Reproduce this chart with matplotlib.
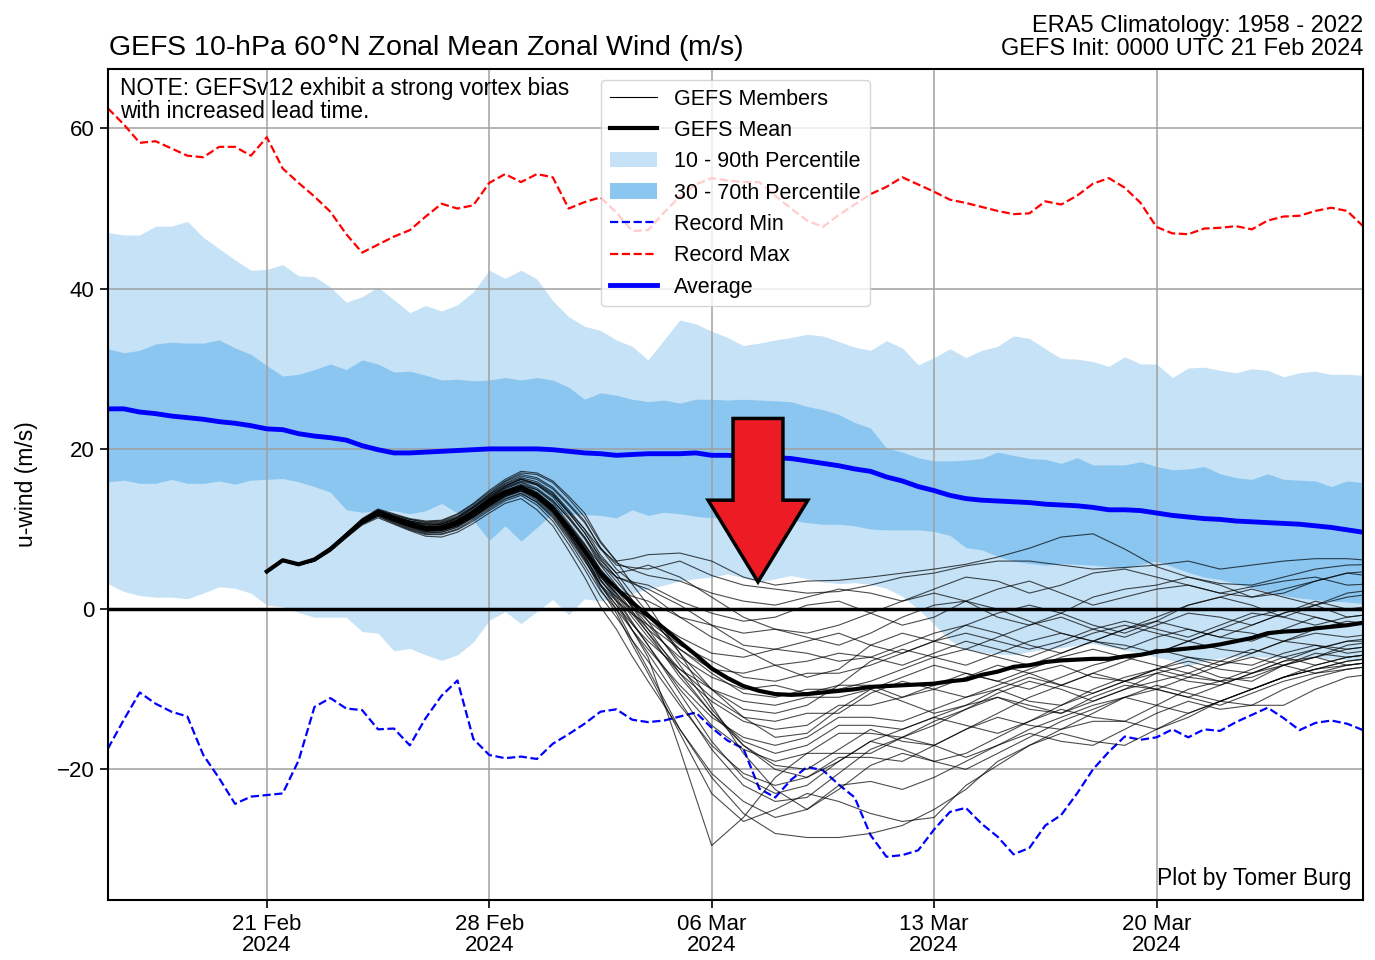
import matplotlib
matplotlib.use('Agg')
import matplotlib.pyplot as plt
import matplotlib.dates as mdates
from matplotlib.patches import FancyArrow, Patch
from matplotlib.lines import Line2D
import pandas as pd

plt.rcParams['font.family'] = ['Liberation Sans', 'DejaVu Sans']

# climatology, 12-hourly from 16 Feb 00z
clim_start = '2024-02-16 00:00'
record_max = [62.5, 60.5, 58.2, 58.4, 57.5, 56.6, 56.4, 57.7, 57.7, 56.6,
              58.9, 55.0, 53.2, 51.5, 49.6, 46.8, 44.5, 45.5, 46.5, 47.3,
              49.0, 50.6, 50.0, 50.4, 53.2, 54.3, 53.3, 54.3, 53.9, 50.0,
              50.8, 51.4, 49.5, 47.2, 47.3, 49.5, 51.5, 53.0, 53.8, 53.5,
              53.3, 53.3, 51.6, 50.0, 48.5, 47.7, 49.2, 50.5, 51.8, 52.7,
              53.9, 53.0, 52.1, 51.1, 50.7, 50.2, 49.7, 49.3, 49.4, 50.9,
              50.5, 51.6, 53.1, 53.8, 52.6, 50.7, 47.7, 46.9, 46.8, 47.5,
              47.6, 47.8, 47.4, 48.5, 49.0, 49.1, 49.7, 50.1, 49.7, 47.8]
record_min = [-17.4, -13.8, -10.4, -11.8, -12.8, -13.4, -18.2, -21.1, -24.3, -23.4,
              -23.2, -23.0, -18.9, -12.2, -11.1, -12.4, -12.6, -15.0, -14.9, -17.0,
              -13.6, -10.8, -8.9, -16.2, -18.2, -18.6, -18.4, -18.7, -16.8, -15.6,
              -14.3, -12.8, -12.5, -13.8, -14.1, -13.9, -13.4, -12.9, -14.8, -16.4,
              -17.4, -22.4, -23.5, -21.3, -19.7, -20.1, -21.9, -23.5, -28.2, -30.9,
              -30.7, -30.1, -27.5, -25.3, -24.8, -26.8, -28.4, -30.6, -29.8, -27.0,
              -25.7, -23.0, -20.0, -17.8, -15.9, -16.3, -16.0, -15.0, -16.0, -15.0,
              -15.2, -14.1, -13.2, -12.3, -13.6, -15.1, -14.2, -13.9, -14.3, -15.1]
clim_avg = [25.0, 25.0, 24.6, 24.4, 24.1, 23.9, 23.7, 23.4, 23.2, 22.9,
            22.5, 22.4, 21.9, 21.6, 21.4, 21.1, 20.4, 19.9, 19.5, 19.5,
            19.6, 19.7, 19.8, 19.9, 20.0, 20.0, 20.0, 20.0, 19.9, 19.7,
            19.5, 19.4, 19.2, 19.3, 19.4, 19.4, 19.4, 19.5, 19.2, 19.2,
            19.1, 19.0, 18.9, 18.8, 18.5, 18.2, 17.9, 17.5, 17.2, 16.5,
            16.0, 15.3, 14.8, 14.2, 13.8, 13.6, 13.5, 13.4, 13.3, 13.1,
            13.0, 12.9, 12.7, 12.4, 12.4, 12.3, 12.0, 11.7, 11.5, 11.3,
            11.2, 11.0, 10.9, 10.8, 10.7, 10.6, 10.4, 10.2, 9.9, 9.6]
p90 = [47.0, 46.7, 46.7, 47.8, 47.8, 48.4, 46.4, 45.0, 43.6, 42.3,
       42.4, 43.0, 41.6, 41.5, 40.2, 38.3, 39.0, 40.2, 38.6, 37.0,
       37.9, 37.2, 38.0, 39.6, 42.3, 41.3, 42.3, 41.2, 38.5, 36.5,
       35.3, 34.8, 33.6, 32.8, 31.1, 33.6, 36.1, 35.6, 34.7, 33.9,
       32.9, 33.2, 33.6, 33.9, 34.3, 34.1, 33.4, 32.7, 32.3, 33.5,
       32.6, 30.5, 31.4, 32.5, 31.4, 32.3, 32.8, 34.1, 33.8, 32.5,
       31.3, 31.2, 30.9, 30.3, 31.5, 30.6, 30.6, 28.9, 30.1, 30.2,
       29.8, 29.5, 30.0, 29.8, 29.0, 29.5, 29.7, 29.3, 29.3, 29.2]
p70 = [32.5, 32.0, 32.3, 33.1, 33.3, 33.2, 33.2, 33.6, 32.6, 31.8,
       30.4, 29.1, 29.3, 29.9, 30.6, 29.9, 31.1, 30.6, 29.6, 29.7,
       29.2, 28.6, 28.7, 28.5, 28.6, 28.9, 28.6, 28.9, 28.6, 27.7,
       26.2, 27.0, 26.7, 26.2, 25.9, 26.1, 25.7, 26.2, 26.2, 26.1,
       26.2, 26.1, 26.0, 25.9, 25.3, 24.9, 24.3, 23.3, 22.6, 20.1,
       19.6, 18.9, 18.5, 18.5, 18.6, 18.8, 19.6, 19.2, 18.8, 18.7,
       18.2, 18.9, 18.0, 18.0, 18.0, 18.4, 17.8, 17.4, 17.5, 17.8,
       16.9, 16.4, 16.2, 16.9, 16.2, 16.1, 16.0, 15.3, 16.0, 15.8]
p30 = [15.9, 16.1, 15.7, 15.7, 16.2, 15.7, 15.7, 16.0, 15.6, 16.1,
       16.2, 16.3, 15.9, 15.3, 14.6, 12.4, 12.1, 12.3, 12.3, 11.9,
       12.3, 13.2, 12.0, 11.1, 8.6, 10.4, 8.5, 10.2, 12.0, 11.9,
       11.8, 11.7, 11.4, 12.4, 11.7, 12.1, 11.9, 11.6, 11.4, 11.6,
       11.3, 11.5, 11.2, 11.1, 10.8, 10.6, 10.6, 10.4, 10.0, 9.9,
       9.9, 9.9, 9.7, 9.2, 7.7, 7.4, 6.6, 6.0, 5.7, 5.5,
       5.7, 5.6, 5.5, 5.3, 5.1, 5.6, 6.0, 5.3, 4.6, 4.0,
       3.7, 3.2, 2.7, 2.2, 1.7, 1.4, 1.2, 1.0, 0.9, 0.7]
p10 = [3.2, 2.2, 1.7, 1.5, 1.5, 1.3, 2.0, 2.8, 2.6, 2.0,
       0.5, 0.3, -0.4, -1.0, -1.0, -1.0, -2.8, -3.0, -5.2, -4.9,
       -5.7, -6.4, -5.7, -4.1, -1.4, -0.3, -1.8, -0.3, 1.2, -0.7,
       1.3, 1.0, 1.5, 2.0, 2.5, 3.0, 3.5, 3.8, 4.0, 4.4,
       3.9, 3.4, 3.8, 4.2, 3.8, 3.4, 3.2, 3.3, 3.1, 2.6,
       1.6, 0.0, -1.9, -3.9, -5.0, -5.4, -5.6, -5.7, -5.3, -5.0,
       -4.8, -4.5, -4.3, -4.7, -5.1, -5.5, -6.0, -6.4, -7.1, -6.5,
       -6.1, -5.9, -5.9, -6.0, -6.1, -6.0, -6.0, -6.2, -6.3, -6.4]

# GEFS ensemble mean, 12-hourly from init
gefs_start = '2024-02-21 00:00'
gefs_mean = [4.7, 6.1, 5.6, 6.2, 7.5, 9.2, 10.9, 12.0, 11.3, 10.6,
             10.1, 10.2, 10.9, 12.1, 13.5, 14.6, 15.2, 14.2, 12.5, 10.0,
             7.3, 4.5, 2.6, 0.8, -0.8, -2.4, -4.1, -5.7, -7.4, -8.6,
             -9.6, -10.2, -10.6, -10.7, -10.6, -10.4, -10.2, -10.0, -9.7, -9.6,
             -9.5, -9.4, -9.3, -9.0, -8.8, -8.2, -7.8, -7.2, -7.0, -6.6,
             -6.4, -6.3, -6.2, -6.2, -5.9, -5.7, -5.3, -5.1, -4.9, -4.7,
             -4.4, -4.0, -3.6, -3.0, -2.8, -2.7, -2.4, -2.2, -2.0, -1.7]

# GEFS members: 12-hourly to 03 Mar 12z (24 values), then daily from 04 Mar (24 values)
members = [
    [4.7, 6.1, 5.6, 6.2, 7.6, 9.4, 11.2, 12.4, 11.8, 11.2, 10.9, 11.0, 11.8, 13.1, 14.6, 16.0, 17.0, 16.8, 15.8, 13.8, 11.5, 8.3, 6.0, 6.3,
     6.8, 7.0, 6.0, 4.0, 3.0, 3.5, 3.6, 4.0, 4.5, 5.0, 5.6, 6.5, 7.6, 9.0, 9.4, 7.5, 5.3, 4.0, 3.2, 3.0, 4.0, 5.0, 5.5, 5.6],
    [4.7, 6.1, 5.6, 6.2, 7.5, 9.3, 11.0, 12.2, 11.5, 10.9, 10.4, 10.6, 11.4, 12.7, 14.2, 15.7, 16.6, 16.2, 15.0, 13.0, 10.8, 7.7, 5.5, 5.2,
     5.0, 6.0, 4.2, 3.0, 2.5, 2.0, 2.2, 3.0, 4.0, 4.5, 5.4, 6.0, 6.0, 5.5, 5.0, 5.2, 5.5, 6.0, 5.0, 5.5, 6.0, 6.3, 6.3, 6.0],
    [4.7, 6.1, 5.6, 6.1, 7.4, 9.2, 10.9, 12.1, 11.4, 10.8, 10.3, 10.4, 11.0, 12.3, 13.8, 15.2, 16.0, 15.5, 14.2, 12.2, 10.0, 7.5, 5.8, 4.9,
     4.2, 3.5, 2.0, 1.0, 0.5, 1.5, 2.5, 2.0, 1.0, 2.5, 4.0, 3.5, 2.0, 3.0, 4.5, 5.0, 4.0, 3.0, 2.0, 1.5, 2.5, 3.5, 4.5, 4.8],
    [4.7, 6.1, 5.6, 6.2, 7.5, 9.3, 11.1, 12.3, 11.6, 11.0, 10.6, 10.6, 11.2, 12.3, 13.6, 14.8, 15.5, 14.9, 13.5, 11.4, 9.0, 6.1, 4.0, 3.4,
     3.0, 1.0, -0.5, -1.5, -1.0, 0.5, 1.0, -0.5, -2.0, -1.0, 1.0, 2.5, 3.5, 2.0, 0.5, 1.5, 2.5, 3.0, 2.0, 2.8, 3.5, 4.0, 3.0, 3.2],
    [4.7, 6.1, 5.6, 6.2, 7.6, 9.3, 11.0, 12.0, 11.2, 10.5, 10.0, 10.2, 10.9, 12.3, 13.9, 15.3, 16.2, 15.7, 14.5, 12.1, 9.5, 6.5, 4.5, 4.9,
     5.5, 4.0, 1.5, -1.0, -2.5, -3.0, -2.0, -0.5, 1.0, 2.0, 1.0, -1.0, -2.0, -0.5, 1.5, 2.5, 3.0, 4.0, 3.0, 1.5, 2.0, 3.5, 4.5, 4.0],
    [4.7, 6.0, 5.5, 6.0, 7.3, 9.1, 10.8, 11.8, 11.0, 10.2, 9.6, 9.6, 10.3, 11.5, 12.9, 14.1, 14.8, 13.9, 12.2, 9.7, 7.0, 4.3, 2.5, 1.6,
     1.0, -1.0, -2.0, -3.0, -2.5, -3.5, -4.5, -3.0, -1.0, 0.5, 1.0, 0.0, -1.5, -3.0, -4.0, -2.5, -1.0, 0.5, 1.5, 0.5, -1.0, 0.5, 2.0, 2.5],
    [4.7, 6.1, 5.6, 6.2, 7.5, 9.2, 10.9, 12.0, 11.3, 10.6, 10.1, 10.2, 10.8, 12.0, 13.4, 14.6, 15.3, 14.4, 12.8, 10.5, 8.0, 5.6, 4.0, 3.2,
     2.5, 0.5, -2.0, -4.5, -5.0, -4.0, -3.0, -4.5, -5.5, -4.0, -2.0, -0.5, 0.5, -0.5, -2.0, -3.0, -1.5, 0.5, 1.5, 2.5, 1.5, 0.5, 1.5, 2.0],
    [4.7, 6.1, 5.6, 6.1, 7.4, 9.0, 10.7, 11.8, 11.0, 10.3, 9.8, 9.8, 10.5, 11.6, 13.0, 14.2, 15.0, 13.8, 12.0, 9.3, 6.5, 3.5, 1.5, 0.1,
     -1.0, -3.5, -5.5, -6.0, -5.0, -5.5, -6.5, -6.0, -4.5, -3.0, -2.0, -3.0, -4.5, -5.5, -4.0, -2.5, -1.5, -2.5, -3.5, -2.0, -0.5, 0.5, -1.0, -0.5],
    [4.7, 6.1, 5.6, 6.2, 7.6, 9.4, 11.2, 12.4, 11.7, 11.2, 10.8, 10.9, 11.6, 12.9, 14.4, 15.9, 16.8, 16.4, 15.2, 13.2, 11.0, 7.6, 5.0, 3.4,
     2.0, -1.0, -3.5, -5.0, -7.0, -6.5, -5.5, -6.0, -7.0, -5.5, -4.0, -5.0, -6.0, -4.5, -3.0, -2.0, -3.0, -4.0, -2.5, -1.0, 0.0, -1.0, -2.0, -1.5],
    [4.7, 6.0, 5.5, 6.0, 7.3, 9.0, 10.6, 11.6, 10.8, 10.0, 9.4, 9.4, 10.0, 11.2, 12.5, 13.7, 14.4, 13.4, 11.6, 8.9, 6.0, 3.1, 1.0, -0.6,
     -2.0, -5.0, -7.5, -8.0, -7.0, -8.5, -7.5, -4.5, -3.0, -4.0, -5.0, -3.5, -2.0, -1.0, -2.5, -3.5, -2.0, -0.5, -1.0, -2.0, -0.5, 1.0, 0.0, 0.5],
    [4.7, 6.1, 5.6, 6.2, 7.5, 9.2, 11.0, 12.1, 11.4, 10.7, 10.2, 10.2, 10.9, 12.1, 13.5, 14.7, 15.4, 14.5, 12.9, 10.4, 7.8, 4.7, 2.5, 0.4,
     -1.5, -4.5, -6.5, -8.5, -9.0, -8.0, -8.0, -7.0, -5.5, -4.0, -3.0, -4.0, -5.0, -4.0, -2.5, -1.5, -2.5, -3.5, -2.0, -0.5, -1.0, -2.0, -1.0, -0.5],
    [4.7, 6.1, 5.6, 6.1, 7.4, 9.2, 10.9, 11.9, 11.1, 10.4, 9.9, 9.9, 10.6, 11.8, 13.1, 14.3, 15.0, 14.0, 12.4, 9.8, 7.0, 4.0, 2.0, -0.3,
     -2.5, -6.0, -8.5, -10.0, -9.5, -10.5, -9.5, -6.5, -5.0, -6.0, -7.0, -5.5, -4.0, -3.0, -4.0, -5.0, -3.5, -2.5, -3.5, -4.0, -2.5, -1.0, -2.0, -1.5],
    [4.7, 6.1, 5.6, 6.2, 7.6, 9.4, 11.1, 12.2, 11.5, 10.9, 10.5, 10.6, 11.3, 12.6, 14.0, 15.4, 16.2, 15.5, 14.0, 11.6, 9.0, 5.8, 3.5, 1.2,
     -1.0, -5.0, -8.0, -10.5, -11.0, -10.0, -10.0, -9.0, -7.5, -6.0, -5.0, -6.0, -7.0, -5.5, -4.0, -4.5, -5.5, -4.0, -2.5, -3.0, -4.0, -2.5, -1.5, -2.0],
    [4.7, 6.0, 5.5, 6.1, 7.4, 9.1, 10.8, 11.8, 11.0, 10.3, 9.7, 9.8, 10.4, 11.5, 12.8, 14.0, 14.7, 13.6, 11.8, 9.1, 6.2, 2.9, 0.5, -1.9,
     -4.0, -7.5, -10.0, -11.5, -12.0, -11.0, -11.0, -10.0, -8.5, -7.0, -8.0, -9.0, -7.5, -6.0, -5.0, -6.0, -5.5, -4.0, -5.0, -5.5, -4.0, -3.0, -3.5, -3.0],
    [4.7, 6.1, 5.6, 6.2, 7.5, 9.2, 11.0, 12.0, 11.3, 10.6, 10.1, 10.2, 10.9, 12.1, 13.6, 14.8, 15.6, 14.6, 13.0, 10.6, 8.0, 5.0, 2.8, 0.3,
     -2.0, -6.5, -10.0, -12.5, -13.0, -12.0, -9.5, -9.5, -11.0, -10.0, -8.5, -7.0, -8.0, -9.5, -8.0, -6.5, -5.0, -6.0, -7.0, -5.5, -4.0, -4.5, -5.5, -5.0],
    [4.7, 6.1, 5.6, 6.2, 7.5, 9.2, 10.9, 12.0, 11.2, 10.5, 10.0, 10.0, 10.7, 11.8, 13.2, 14.4, 15.1, 14.2, 12.6, 10.2, 7.5, 4.3, 2.0, -0.6,
     -3.0, -7.5, -11.0, -13.5, -14.0, -13.0, -13.0, -10.5, -9.0, -10.0, -11.0, -9.5, -8.0, -7.0, -8.5, -9.0, -7.5, -6.0, -6.5, -7.0, -5.5, -4.5, -5.0, -4.5],
    [4.7, 6.1, 5.6, 6.1, 7.4, 9.1, 10.8, 11.9, 11.1, 10.4, 9.9, 9.9, 10.6, 11.8, 13.3, 14.6, 15.3, 14.4, 12.7, 10.2, 7.4, 4.2, 1.8, -1.0,
     -3.5, -8.0, -11.5, -14.0, -15.0, -14.5, -12.0, -12.0, -11.0, -9.5, -8.0, -9.0, -10.0, -8.5, -7.0, -6.0, -7.0, -8.0, -6.5, -5.0, -6.0, -7.0, -6.0, -5.5],
    [4.7, 6.2, 5.7, 6.3, 7.6, 9.4, 11.1, 12.3, 11.6, 11.0, 10.7, 10.8, 11.5, 12.8, 14.3, 15.6, 16.4, 15.9, 14.6, 12.4, 10.0, 6.8, 4.5, 1.9,
     -0.5, -5.5, -10.0, -13.5, -16.0, -15.5, -12.5, -10.0, -11.5, -13.0, -12.0, -10.0, -8.5, -9.5, -10.5, -9.0, -7.5, -6.5, -7.5, -8.0, -6.5, -5.0, -4.0, -4.0],
    [4.7, 6.0, 5.5, 6.0, 7.3, 9.0, 10.7, 11.7, 10.9, 10.1, 9.5, 9.6, 10.2, 11.4, 12.7, 13.8, 14.5, 13.3, 11.4, 8.6, 5.5, 2.3, 0.0, -2.6,
     -5.0, -9.5, -13.5, -16.0, -17.0, -16.0, -13.5, -13.5, -14.0, -12.5, -11.0, -10.0, -11.5, -12.0, -10.5, -9.0, -8.0, -9.0, -9.5, -8.0, -6.5, -6.0, -7.0, -6.5],
    [4.7, 6.1, 5.6, 6.2, 7.5, 9.2, 11.0, 12.0, 11.3, 10.6, 10.2, 10.3, 11.0, 12.2, 13.7, 15.0, 15.8, 14.9, 13.3, 10.8, 8.2, 4.9, 2.5, -0.3,
     -3.0, -8.5, -13.0, -16.5, -18.0, -17.0, -14.5, -14.5, -15.0, -13.5, -12.0, -11.0, -12.5, -13.0, -11.0, -9.5, -10.0, -11.0, -9.5, -8.0, -7.0, -8.0, -7.5, -7.0],
    [4.7, 6.1, 5.6, 6.1, 7.4, 9.2, 10.9, 11.9, 11.1, 10.4, 9.8, 9.9, 10.5, 11.6, 13.0, 14.2, 14.9, 14.0, 12.3, 9.8, 7.0, 3.7, 1.2, -1.8,
     -4.5, -10.0, -14.5, -17.5, -19.0, -18.0, -15.5, -15.5, -16.0, -14.5, -12.5, -10.5, -9.0, -10.0, -11.5, -10.0, -8.0, -7.0, -8.5, -9.0, -7.0, -5.5, -6.0, -5.5],
    [4.7, 6.1, 5.6, 6.2, 7.5, 9.2, 11.0, 12.1, 11.4, 10.8, 10.3, 10.4, 11.1, 12.4, 13.8, 15.1, 15.9, 15.1, 13.6, 11.3, 8.8, 5.5, 3.0, 0.2,
     -2.5, -8.0, -13.0, -17.0, -19.5, -20.0, -17.5, -15.0, -16.5, -17.0, -15.0, -13.0, -11.0, -9.5, -8.0, -9.0, -10.0, -8.5, -7.0, -6.0, -7.0, -6.0, -4.5, -4.0],
    [4.7, 6.1, 5.6, 6.2, 7.6, 9.4, 11.2, 12.3, 11.6, 11.0, 10.6, 10.7, 11.4, 12.6, 14.1, 15.4, 16.3, 15.6, 14.3, 12.0, 9.6, 6.3, 4.0, 1.1,
     -1.5, -7.0, -12.5, -17.0, -20.0, -21.0, -19.0, -16.5, -15.0, -13.5, -14.5, -15.5, -14.0, -12.0, -10.0, -8.5, -7.5, -8.5, -9.0, -7.5, -6.0, -5.0, -4.0, -3.5],
    [4.7, 6.0, 5.5, 6.0, 7.3, 9.0, 10.6, 11.6, 10.7, 9.9, 9.3, 9.3, 9.9, 11.0, 12.3, 13.5, 14.2, 13.0, 11.0, 8.1, 5.0, 1.6, -1.0, -3.9,
     -6.5, -12.0, -17.0, -20.5, -22.0, -21.0, -18.5, -18.5, -19.0, -17.0, -15.0, -13.5, -14.5, -15.0, -13.0, -11.0, -9.5, -10.5, -11.5, -10.0, -8.5, -7.5, -6.5, -6.0],
    [4.7, 6.1, 5.6, 6.2, 7.5, 9.2, 11.0, 12.0, 11.3, 10.6, 10.1, 10.2, 10.8, 12.0, 13.4, 14.6, 15.3, 14.5, 12.9, 10.4, 7.6, 4.1, 1.5, -1.6,
     -4.5, -10.5, -16.5, -21.0, -23.0, -22.0, -19.0, -16.5, -17.5, -19.0, -18.0, -16.0, -14.0, -12.5, -13.5, -14.0, -12.0, -10.0, -9.0, -10.0, -8.5, -7.0, -6.0, -5.5],
    [4.7, 6.1, 5.6, 6.1, 7.4, 9.1, 10.8, 11.8, 11.0, 10.3, 9.7, 9.8, 10.4, 11.6, 12.9, 14.1, 14.8, 13.8, 12.1, 9.5, 6.6, 3.1, 0.5, -2.6,
     -5.5, -11.5, -17.5, -22.0, -24.0, -23.5, -20.5, -17.5, -16.0, -17.0, -18.5, -17.0, -15.0, -13.5, -12.0, -11.0, -12.0, -13.0, -11.5, -10.0, -8.5, -7.5, -7.0, -6.5],
    [4.7, 6.2, 5.7, 6.3, 7.7, 9.5, 11.3, 12.5, 11.9, 11.3, 11.0, 11.1, 11.9, 13.2, 14.8, 16.2, 17.2, 17.0, 16.0, 14.1, 12.0, 8.5, 6.0, 3.1,
     0.5, -5.5, -12.0, -18.0, -22.5, -25.0, -22.5, -19.5, -18.0, -19.0, -20.0, -18.0, -16.0, -14.0, -12.5, -11.0, -10.0, -11.0, -12.0, -10.5, -9.0, -8.0, -7.0, -6.5],
    [4.7, 6.0, 5.5, 6.0, 7.2, 8.9, 10.5, 11.4, 10.6, 9.8, 9.1, 9.0, 9.6, 10.7, 12.0, 13.2, 13.8, 12.4, 10.4, 7.3, 4.0, 0.3, -2.5, -5.9,
     -9.0, -15.0, -20.5, -24.0, -26.0, -25.0, -22.0, -21.5, -22.5, -21.0, -19.0, -17.0, -15.5, -16.5, -17.0, -15.0, -13.0, -11.5, -12.5, -12.0, -10.0, -8.5, -7.5, -7.0],
    [4.7, 6.1, 5.6, 6.2, 7.5, 9.2, 11.0, 12.0, 11.2, 10.5, 10.0, 10.0, 10.7, 11.8, 13.2, 14.4, 15.0, 14.0, 12.4, 9.7, 6.8, 3.0, 0.0, -3.9,
     -7.5, -15.0, -21.0, -25.5, -28.0, -28.5, -28.5, -28.0, -27.0, -25.0, -22.5, -19.0, -17.0, -15.0, -14.0, -14.0, -15.0, -13.5, -11.5, -10.0, -8.5, -7.5, -6.5, -6.0],
    [4.7, 6.1, 5.6, 6.1, 7.4, 9.1, 10.8, 11.9, 11.1, 10.4, 9.9, 9.9, 10.5, 11.6, 13.0, 14.2, 14.9, 13.9, 12.2, 9.4, 6.3, 2.5, -0.5, -4.4,
     -8.0, -15.5, -23.0, -26.5, -25.0, -23.0, -24.0, -25.5, -26.5, -26.0, -22.0, -19.5, -17.0, -15.5, -16.5, -17.0, -15.0, -13.0, -11.5, -12.0, -12.0, -10.0, -8.5, -8.0],
    [4.7, 6.1, 5.6, 6.2, 7.5, 9.2, 10.9, 12.0, 11.2, 10.5, 10.0, 10.1, 10.8, 12.0, 13.3, 14.5, 15.2, 14.3, 12.6, 10.0, 7.2, 3.7, 1.0, -2.6,
     -6.0, -17.5, -29.5, -26.0, -21.0, -18.0, -18.0, -18.0, -16.0, -14.0, -12.5, -11.0, -12.0, -13.0, -11.5, -10.0, -9.0, -8.0, -9.0, -8.5, -7.0, -6.0, -5.0, -4.5],
]

tick_dates = ['2024-02-21', '2024-02-28', '2024-03-06', '2024-03-13', '2024-03-20']

light_blue = '#c6e2f6'
mid_blue = '#8ac6f0'

clim_x = pd.date_range(clim_start, periods=len(clim_avg), freq='12h')
mean_x = pd.date_range(gefs_start, periods=len(gefs_mean), freq='12h')
mem_x = pd.date_range(gefs_start, periods=24, freq='12h').append(
    pd.date_range('2024-03-04 00:00', periods=24, freq='D'))

fig = plt.figure(figsize=(13.75, 9.6), dpi=100)
ax = fig.add_axes([0.0785, 0.0625, 0.9128, 0.8655])

# percentile bands
ax.fill_between(clim_x, p10, p90, color=light_blue, lw=0, zorder=1)
ax.fill_between(clim_x, p30, p70, color=mid_blue, lw=0, zorder=1)

ax.grid(True, color='#a0a0a0', lw=1.1, zorder=1.5)

ax.plot(clim_x, record_max, color='red', ls='--', lw=1.6, zorder=2)
ax.plot(clim_x, record_min, color='blue', ls='--', lw=1.6, zorder=2)
ax.plot(clim_x, clim_avg, color='blue', lw=3.5, zorder=2)

ax.axhline(0, color='black', lw=2.5, zorder=2.5)

for m in members:
    ax.plot(mem_x, m, color='black', lw=0.8, alpha=0.7, zorder=3)
ax.plot(mean_x, gefs_mean, color='black', lw=3, zorder=4)

# big red arrow
arrow_x = mdates.date2num(pd.Timestamp('2024-03-07 11:00'))
arrow = FancyArrow(arrow_x, 23.8, 0, -20.4, width=1.57, head_width=3.14, head_length=10.2,
                   length_includes_head=True, fc='#ed1c24', ec='black', lw=2.5, zorder=5)
ax.add_patch(arrow)

ax.set_xlim(pd.Timestamp('2024-02-16 00:00'), pd.Timestamp('2024-03-26 12:00'))
ax.set_ylim(-36.3, 67.4)
ax.set_yticks([-20, 0, 20, 40, 60])
ax.set_xticks(pd.to_datetime(tick_dates))
ax.xaxis.set_major_formatter(mdates.DateFormatter('%d %b\n%Y'))
ax.tick_params(labelsize=16, length=6, width=1.2)
ax.tick_params(axis='x', pad=4)
for lbl in ax.get_xticklabels():
    lbl.set_linespacing(1.0)
for s in ax.spines.values():
    s.set_linewidth(1.5)
ax.set_ylabel('u-wind (m/s)', fontsize=16.5, labelpad=14)

ax.set_title('GEFS 10-hPa 60$\\degree$N Zonal Mean Zonal Wind (m/s)', loc='left', fontsize=20.5, pad=9)
ax.set_title('ERA5 Climatology: 1958 - 2022\nGEFS Init: 0000 UTC 21 Feb 2024', loc='right', fontsize=17,
             pad=10, linespacing=1.05)

ax.text(0.01, 0.99, 'NOTE: GEFSv12 exhibit a strong vortex bias\nwith increased lead time.',
        transform=ax.transAxes, ha='left', va='top', fontsize=16.3, linespacing=0.98, zorder=6)
ax.text(0.991, 0.012, 'Plot by Tomer Burg', transform=ax.transAxes, ha='right', va='bottom',
        fontsize=16.5, zorder=6)

handles = [
    Line2D([], [], color='black', lw=0.8),
    Line2D([], [], color='black', lw=3),
    Patch(facecolor=light_blue),
    Patch(facecolor=mid_blue),
    Line2D([], [], color='blue', ls='--', lw=1.6),
    Line2D([], [], color='red', ls='--', lw=1.6),
    Line2D([], [], color='blue', lw=3.5),
]
labels = ['GEFS Members', 'GEFS Mean', '10 - 90th Percentile', '30 - 70th Percentile',
          'Record Min', 'Record Max', 'Average']
leg = ax.legend(handles, labels, loc='upper left', bbox_to_anchor=(0.393, 0.987), borderaxespad=0,
                fontsize=15.5, handlelength=2.2, labelspacing=0.48)
leg.set_zorder(7)

fig.savefig('out.png', dpi=100)
